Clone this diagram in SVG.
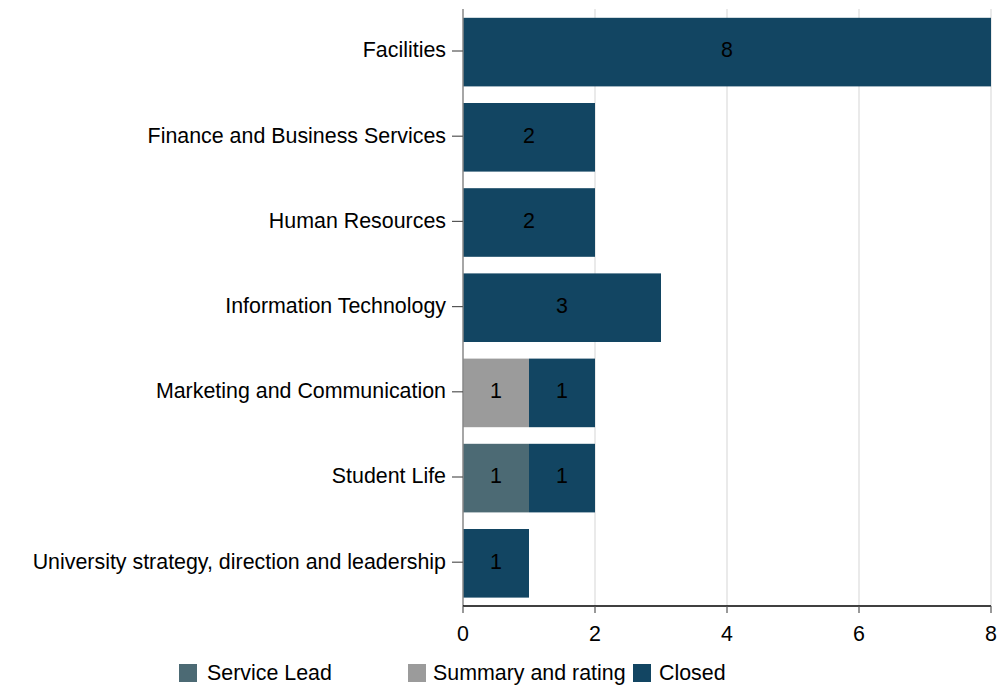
<svg xmlns="http://www.w3.org/2000/svg" width="1008" height="687" viewBox="0 0 1008 687">
<style>
text{font-family:"Liberation Sans",Arial,sans-serif;font-size:21.4px;fill:#000}
.lbl{text-anchor:end}
.num{text-anchor:middle}
.grid{stroke:#dcdcdc;stroke-width:1.2}
.tick{stroke:#555;stroke-width:1.2}
.closed{fill:#124562}
.lead{fill:#4c6a74}
.summ{fill:#9b9b9b}
</style>
<rect width="1008" height="687" fill="#fff"/>
<g id="grid">
<line class="grid" x1="595" y1="9" x2="595" y2="606"/>
<line class="grid" x1="727" y1="9" x2="727" y2="606"/>
<line class="grid" x1="859" y1="9" x2="859" y2="606"/>
<line class="grid" x1="991" y1="9" x2="991" y2="606"/>
</g>
<g id="bars">
<g id="facilities"><rect class="closed" x="463" y="17.8" width="528" height="68.6"/><text class="num" x="727" y="57.4">8</text></g>
<g id="finance"><rect class="closed" x="463" y="103" width="132" height="68.6"/><text class="num" x="529" y="142.6">2</text></g>
<g id="hr"><rect class="closed" x="463" y="188.2" width="132" height="68.6"/><text class="num" x="529" y="227.8">2</text></g>
<g id="it"><rect class="closed" x="463" y="273.4" width="198" height="68.6"/><text class="num" x="562" y="313">3</text></g>
<g id="marketing"><rect class="summ" x="463" y="358.6" width="66" height="68.6"/><rect class="closed" x="529" y="358.6" width="66" height="68.6"/><text class="num" x="496" y="398.2">1</text><text class="num" x="562" y="398.2">1</text></g>
<g id="studentlife"><rect class="lead" x="463" y="443.8" width="66" height="68.6"/><rect class="closed" x="529" y="443.8" width="66" height="68.6"/><text class="num" x="496" y="483.4">1</text><text class="num" x="562" y="483.4">1</text></g>
<g id="strategy"><rect class="closed" x="463" y="529" width="66" height="68.6"/><text class="num" x="496" y="568.6">1</text></g>
</g>
<g id="yaxis">
<line x1="463" y1="9" x2="463" y2="606" stroke="#888" stroke-width="1.5"/>
<line class="tick" x1="452" y1="51" x2="463" y2="51"/>
<line class="tick" x1="452" y1="136.2" x2="463" y2="136.2"/>
<line class="tick" x1="452" y1="221.4" x2="463" y2="221.4"/>
<line class="tick" x1="452" y1="306.6" x2="463" y2="306.6"/>
<line class="tick" x1="452" y1="391.8" x2="463" y2="391.8"/>
<line class="tick" x1="452" y1="477" x2="463" y2="477"/>
<line class="tick" x1="452" y1="562.2" x2="463" y2="562.2"/>
<text class="lbl" x="446" y="57.4">Facilities</text>
<text class="lbl" x="446" y="142.6">Finance and Business Services</text>
<text class="lbl" x="446" y="227.8">Human Resources</text>
<text class="lbl" x="446" y="313">Information Technology</text>
<text class="lbl" x="446" y="398.2">Marketing and Communication</text>
<text class="lbl" x="446" y="483.4">Student Life</text>
<text class="lbl" x="446" y="568.6">University strategy, direction and leadership</text>
</g>
<g id="xaxis">
<line x1="463" y1="606" x2="991" y2="606" stroke="#000" stroke-width="1.5"/>
<line class="tick" x1="463" y1="606" x2="463" y2="613"/>
<line class="tick" x1="595" y1="606" x2="595" y2="613"/>
<line class="tick" x1="727" y1="606" x2="727" y2="613"/>
<line class="tick" x1="859" y1="606" x2="859" y2="613"/>
<line class="tick" x1="991" y1="606" x2="991" y2="613"/>
<text class="num" x="463" y="641">0</text>
<text class="num" x="595" y="641">2</text>
<text class="num" x="727" y="641">4</text>
<text class="num" x="859" y="641">6</text>
<text class="num" x="991" y="641">8</text>
</g>
<g id="legend">
<rect class="lead" x="179" y="664" width="18" height="18"/>
<text x="207" y="680">Service Lead</text>
<rect class="summ" x="408" y="664" width="18" height="18"/>
<text x="433" y="680">Summary and rating</text>
<rect class="closed" x="633" y="664" width="18" height="18"/>
<text x="659" y="680">Closed</text>
</g>
</svg>
